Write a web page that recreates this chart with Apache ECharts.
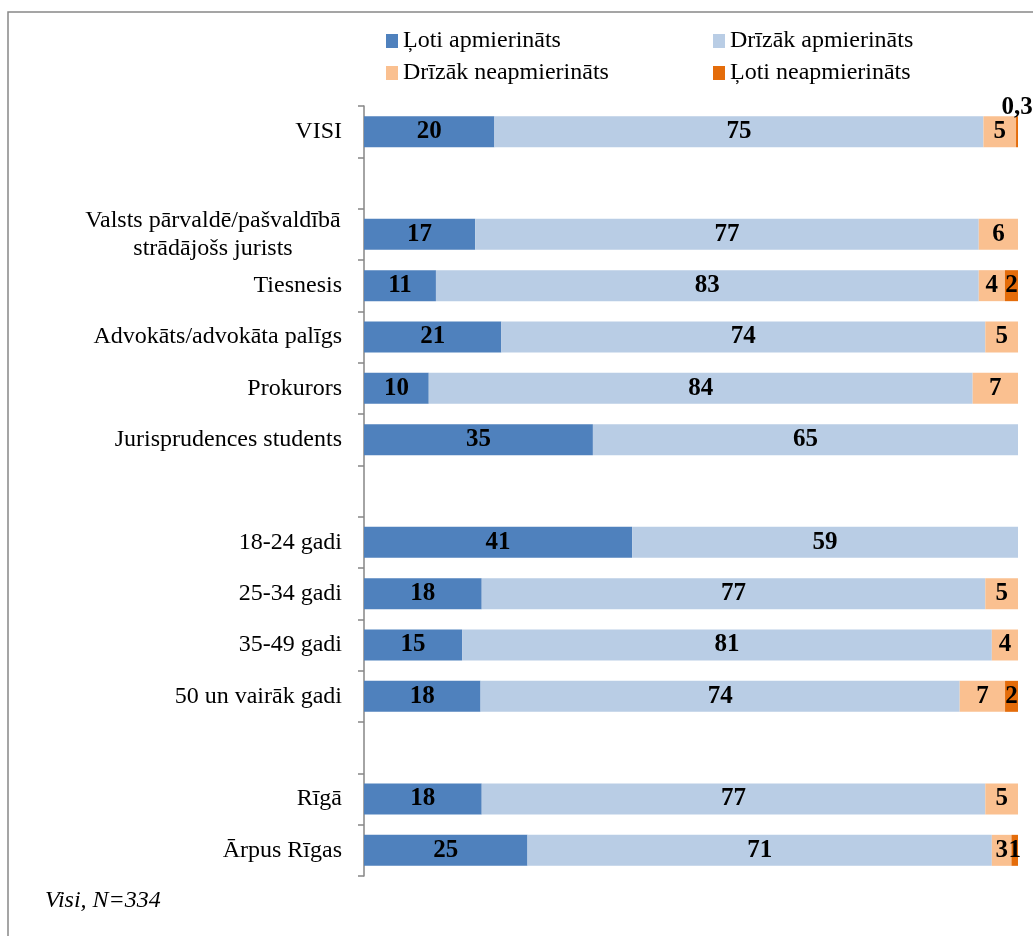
<!DOCTYPE html>
<html>
<head>
<meta charset="utf-8">
<script src="https://cdn.jsdelivr.net/npm/echarts@6/dist/echarts.min.js"></script>
<style>
html,body{margin:0;padding:0;background:#fff;}
#main{width:1033px;height:936px;}
</style>
</head>
<body>
<div id="main"></div>
<script>
var categories = ['VISI', ' ', 'Valsts pārvaldē/pašvaldībā\nstrādājošs jurists', 'Tiesnesis',
    'Advokāts/advokāta palīgs', 'Prokurors', 'Jurisprudences students', '  ',
    '18-24 gadi', '25-34 gadi', '35-49 gadi', '50 un vairāk gadi', '   ', 'Rīgā', 'Ārpus Rīgas'];
var seriesNames = ['Ļoti apmierināts', 'Drīzāk apmierināts', 'Drīzāk neapmierināts', 'Ļoti neapmierināts'];
var veryHappy  = [20, null, 17, 11, 21, 10, 35, null, 41, 18, 15, 18, null, 18, 25];
var ratherHappy = [75, null, 77, 83, 74, 84, 65, null, 59, 77, 81, 74, null, 77, 71];
var ratherUnhappy = [5, null, 6, 4, 5, 7, null, null, null, 5, 4, 7, null, 5, 3];
var veryUnhappy = [0.3, null, null, 2, null, null, null, null, null, null, null, 2, null, null, 1];
var colors = ['#4F81BD', '#B9CDE5', '#FAC090', '#E46C0A'];

var serif = "'Times New Roman', 'Liberation Serif', serif";
var raw = [veryHappy, ratherHappy, ratherUnhappy, veryUnhappy];

// row totals, bars are drawn as share of 100
var totals = categories.map(function (c, i) {
    var s = 0;
    raw.forEach(function (arr) { s += arr[i] || 0; });
    return s;
});

var series = raw.map(function (arr, k) {
    return {
        name: seriesNames[k],
        type: 'bar',
        stack: 'all',
        barWidth: 31,
        itemStyle: { color: colors[k] },
        label: {
            show: true,
            position: 'inside',
            color: '#000',
            fontFamily: serif,
            fontWeight: 'bold',
            fontSize: 25,
            overflow: 'none',
            formatter: function (p) { return String(p.data.raw).replace('.', ','); }
        },
        data: arr.map(function (v, i) {
            if (v == null) return null;
            var d = { value: v / totals[i] * 100, raw: v };
            if (k == 3 && v < 1) {
                d.label = { position: 'top', distance: -4 };
            }
            return d;
        })
    };
});

var legendPos = [[386, 29], [713, 29], [386, 61], [713, 61]];
var legends = seriesNames.map(function (n, k) {
    return {
        data: [n],
        left: legendPos[k][0],
        top: legendPos[k][1],
        padding: 0,
        itemWidth: 12,
        itemHeight: 14,
        icon: 'rect',
        selectedMode: false,
        textStyle: { fontFamily: serif, fontSize: 24, color: '#000' }
    };
});

var chart = echarts.init(document.getElementById('main'));
chart.setOption({
    animation: false,
    backgroundColor: '#fff',
    legend: legends,
    grid: { left: 364, right: 15, top: 106, bottom: 60 },
    xAxis: { type: 'value', min: 0, max: 100, show: false },
    yAxis: {
        type: 'category',
        inverse: true,
        data: categories,
        axisLine: { lineStyle: { color: '#868686', width: 1.5 } },
        axisTick: { show: true, length: 6, lineStyle: { color: '#868686', width: 1.5 } },
        axisLabel: {
            margin: 22,
            color: '#000',
            fontFamily: serif,
            fontSize: 24,
            lineHeight: 28,
            formatter: function (v) {
                if (v.indexOf('\n') < 0) return v;
                return v.split('\n').map(function (s) { return '{c|' + s + '}'; }).join('\n');
            },
            rich: {
                c: { width: 258, align: 'center', fontFamily: serif, fontSize: 24, color: '#000', lineHeight: 28 }
            }
        }
    },
    graphic: [
        {
            type: 'rect',
            shape: { x: 8, y: 12, width: 1200, height: 1200 },
            style: { fill: null, stroke: '#888', lineWidth: 1.5 },
            silent: true
        },
        {
            type: 'text',
            left: 45,
            top: 889,
            style: { text: 'Visi, N=334', fontFamily: serif, fontStyle: 'italic', fontSize: 24, fill: '#000' }
        }
    ],
    series: series
});
</script>
</body>
</html>
